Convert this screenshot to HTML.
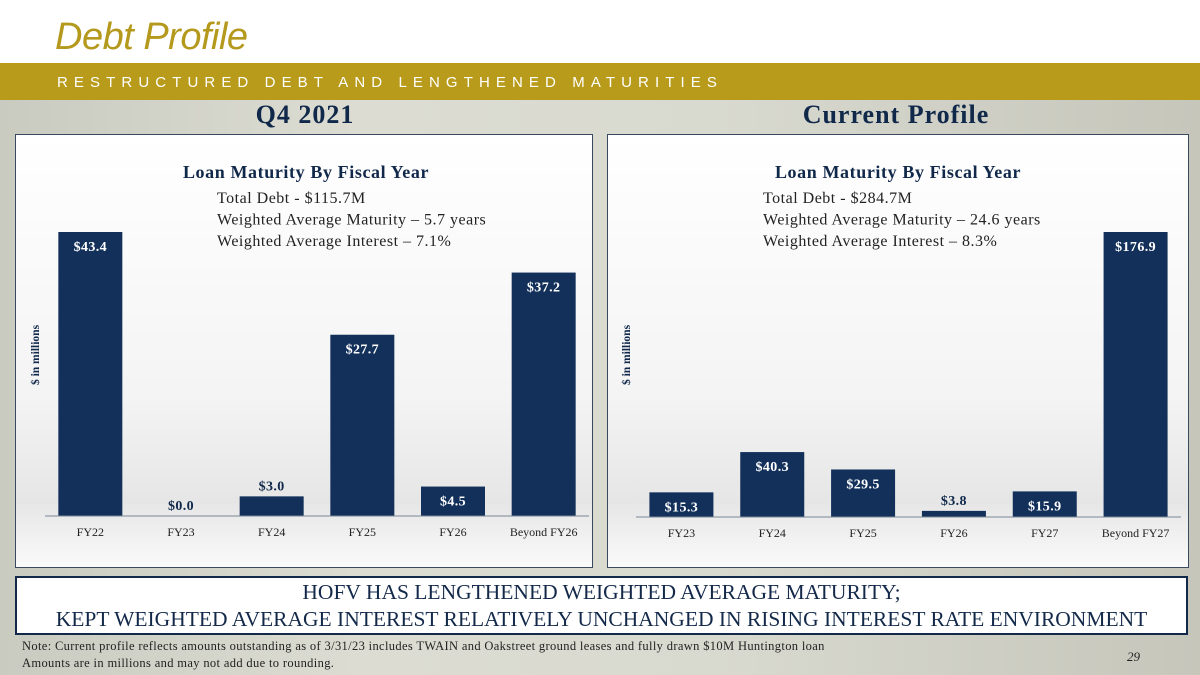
<!DOCTYPE html>
<html><head><meta charset="utf-8"><style>
body{margin:0;width:1200px;height:675px;overflow:hidden;position:relative;font-family:"Liberation Serif",serif;background:#fff}
.abs{position:absolute}
#bg{left:0;top:100px;width:1200px;height:575px;background:linear-gradient(90deg,#c9cbc0 0%,#dcdcd2 30%,#d8d9cf 60%,#c6c6bb 100%)}
.panel{top:134px;width:576px;height:432px;border:1px solid #3a4a5e;background:linear-gradient(180deg,#ffffff 0%,#f4f4f4 60%,#e6e6e6 85%,#fafafa 100%)}
.navy{color:#10284a}
</style></head><body>
<div id="bg" class="abs"></div>
<div class="abs" style="left:55px;top:16px;font-family:'Liberation Sans',sans-serif;font-style:italic;font-size:38px;color:#b4991c;letter-spacing:-0.5px">Debt Profile</div>
<div class="abs" style="left:0;top:63px;width:1200px;height:37px;background:#b89b1b"></div>
<div class="abs" style="left:57px;top:74px;font-family:'Liberation Sans',sans-serif;font-size:15px;color:#fff;letter-spacing:6.1px">RESTRUCTURED DEBT AND LENGTHENED MATURITIES</div>
<div class="abs navy" style="left:155px;width:300px;top:100px;text-align:center;font-weight:bold;font-size:26px;letter-spacing:1px">Q4 2021</div>
<div class="abs navy" style="left:746px;width:300px;top:100px;text-align:center;font-weight:bold;font-size:26px;letter-spacing:1px">Current Profile</div>
<div class="abs panel" style="left:15px"></div>
<div class="abs panel" style="left:607px;width:580px"></div>
<svg class="abs" style="left:0;top:0" width="1200" height="675" id="charts"></svg>
<div class="abs" style="left:15px;top:576px;width:1169px;height:54px;background:#fff;border:2px solid #13294a;text-align:center;font-size:21.5px;line-height:27px;color:#13294a;padding-top:1px">HOFV HAS LENGTHENED WEIGHTED AVERAGE MATURITY;<br>KEPT WEIGHTED AVERAGE INTEREST RELATIVELY UNCHANGED IN RISING INTEREST RATE ENVIRONMENT</div>
<div class="abs" style="left:22px;top:638px;font-size:12.5px;letter-spacing:0.35px;line-height:17px;color:#222">Note: Current profile reflects amounts outstanding as of 3/31/23 includes TWAIN and Oakstreet ground leases and fully drawn $10M Huntington loan<br>Amounts are in millions and may not add due to rounding.</div>
<div class="abs" style="left:1127px;top:649px;font-style:italic;font-size:13px;color:#222">29</div>
<script>
const leftCategories=["FY22","FY23","FY24","FY25","FY26","Beyond FY26"];
const leftValues=[43.4,0.0,3.0,27.7,4.5,37.2];
const leftInfo=["Total Debt - $115.7M","Weighted Average Maturity \u2013 5.7 years","Weighted Average Interest \u2013 7.1%"];
const rightCategories=["FY23","FY24","FY25","FY26","FY27","Beyond FY27"];
const rightValues=[15.3,40.3,29.5,3.8,15.9,176.9];
const rightInfo=["Total Debt - $284.7M","Weighted Average Maturity \u2013 24.6 years","Weighted Average Interest \u2013 8.3%"];
const NS="http://www.w3.org/2000/svg";
const svg=document.getElementById('charts');
function mk(tag,attrs,text){const e=document.createElementNS(NS,tag);for(const k in attrs)e.setAttribute(k,attrs[k]);if(text!==undefined)e.textContent=text;svg.appendChild(e);return e;}
function drawChart(prefix,cats,vals,info,x0,x1,base,topPx,titleCx,infoX){
  const maxV=Math.max(...vals);
  const y=v=>base-(v/maxV)*(base-topPx);
  const step=(x1-x0)/cats.length;
  const xc=i=>x0+step*(i+0.5);
  const bw=64;
  let t=mk('text',{x:titleCx,y:178,'text-anchor':'middle','font-size':'18','letter-spacing':'0.6','font-weight':'bold',fill:'#10284a','font-family':'Liberation Serif, serif'},'Loan Maturity By Fiscal Year');
  
  
  info.forEach((s,i)=>{const e=mk('text',{x:infoX,y:203+i*21.5,'font-size':'16','letter-spacing':'0.5',fill:'#222','font-family':'Liberation Serif, serif'},s);
    
    });
  const yt=mk('text',{transform:`translate(${x0-6},355) rotate(-90)`,'text-anchor':'middle','font-size':'11.5','font-weight':'bold',fill:'#10284a','font-family':'Liberation Serif, serif'},'$ in millions');
  
  
  vals.forEach((v,i)=>{
    const top=y(v),h=base-top;
    const r=mk('rect',{x:xc(i)-bw/2,y:top,width:bw,height:h,fill:'#12305a'});
    
    
    const inside=h>24;
    const l=mk('text',{x:xc(i),y:inside?top+19:top-6,'text-anchor':'middle','font-size':'14','letter-spacing':'0.4','font-weight':'bold',fill:inside?'#fff':'#10284a','font-family':'Liberation Serif, serif'},'$'+v.toFixed(1));
    
    
    const c=mk('text',{x:xc(i),y:base+20,'text-anchor':'middle','font-size':'12',fill:'#222','font-family':'Liberation Serif, serif'},cats[i]);
    
    
  });
  const ax=mk('line',{x1:x0,x2:x1,y1:base,y2:base,stroke:'#7a8796','stroke-width':1});
  
  
}
drawChart('left',leftCategories,leftValues,leftInfo,45,589,516,232,306,217);
drawChart('right',rightCategories,rightValues,rightInfo,636,1181,517,232,898,763);
</script>
</body></html>
